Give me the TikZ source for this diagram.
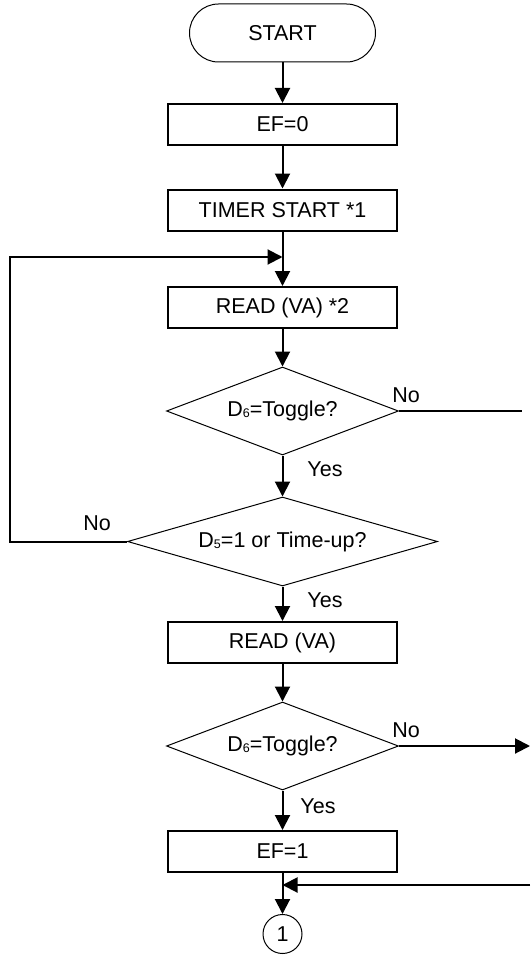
\documentclass[tikz,border=0pt]{standalone}
\usepackage{fontspec}
\setmainfont{Liberation Sans}
\usetikzlibrary{arrows.meta,shapes.geometric}

\newcommand{\dsub}[1]{\raisebox{-1pt}{\fontsize{12.5}{12.5}\selectfont #1}}

\tikzset{
  box/.style={draw,line width=2pt,minimum width=229pt,minimum height=41pt,inner sep=0pt},
  term/.style={draw,line width=1pt,rounded corners=29pt,minimum width=186pt,minimum height=58pt,inner sep=0pt},
  test/.style={draw,diamond,aspect=3.5,line width=1pt,minimum width=232pt,minimum height=88pt,inner sep=0pt},
  conn/.style={draw,circle,line width=1pt,minimum size=39pt,inner sep=0pt},
  flow/.style={line width=2pt,-{Triangle[length=15pt,width=15pt]}},
  wire/.style={line width=2pt}
}

\begin{document}
\begin{tikzpicture}[x=1pt,y=-1pt,font=\fontsize{21.5}{25}\selectfont]
\useasboundingbox (0,0) rectangle (530,955);

\node[term] (start) at (282.5,33) {START};
\node[box] (ef0) at (282.5,124.5) {EF=0};
\node[box] (timer) at (282.5,210) {TIMER START *1};
\node[box] (read1) at (282.5,307.5) {READ (VA) *2};
\node[test] (tog1) at (282.5,411) {D\dsub{6}=Toggle?};
\node[test,minimum width=310pt,minimum height=89pt] (tup) at (282.5,541.5) {D\dsub{5}=1 or Time-up?};
\node[box] (read2) at (282.5,642.5) {READ (VA)};
\node[test] (tog2) at (282.5,746) {D\dsub{6}=Toggle?};
\node[box] (ef1) at (282.5,851.5) {EF=1};
\node[conn] (one) at (282.5,934) {1};

% labels
\node (no1) at (406,395) {No};
\node (yes1) at (325,469) {Yes};
\node (no2) at (97,523) {No};
\node (yes2) at (325,600) {Yes};
\node (no3) at (406,730) {No};
\node (yes3) at (318,806) {Yes};

% free ends
\coordinate (loop) at (282.5,257);
\coordinate (left) at (10,541.5);
\coordinate (out1) at (522,411);
\coordinate (out2) at (530,746);
\coordinate (back) at (530,885);
\coordinate (join) at (282.5,885);

\draw[flow] (start) -- (ef0);
\draw[flow] (ef0) -- (timer);
\draw[flow] (timer) -- (read1);
\draw[flow] (read1) -- (tog1);
\draw[flow] (tog1) -- (tup);
\draw[flow] (tup) -- (read2);
\draw[flow] (read2) -- (tog2);
\draw[flow] (tog2) -- (ef1);
\draw[flow] (ef1) -- (one);

\draw[flow] (tup.west) -- (left) |- (loop);
\draw[wire] (tog1.east) -- (out1);
\draw[flow] (tog2.east) -- (out2);
\draw[flow] (back) -- (join);

\end{tikzpicture}
\end{document}
